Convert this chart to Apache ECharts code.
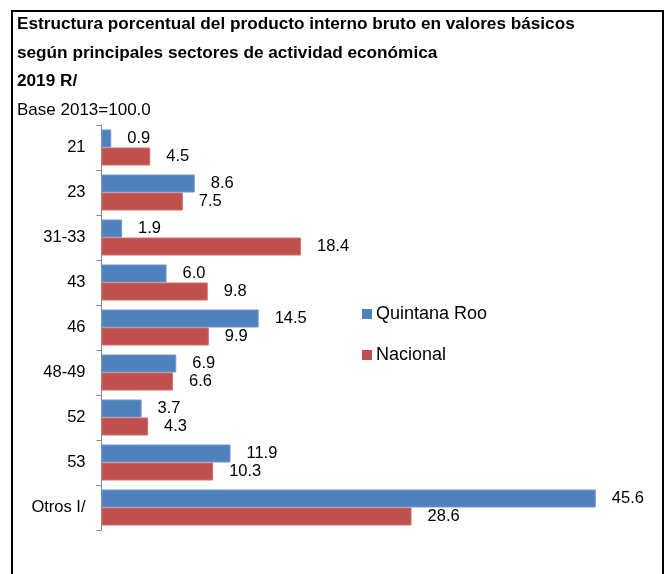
<!DOCTYPE html>
<html>
<head>
<meta charset="utf-8">
<script src="https://cdn.jsdelivr.net/npm/echarts@6/dist/echarts.min.js"></script>
<style>
  html, body { margin: 0; padding: 0; background: #fff; }
  #chart { width: 665px; height: 574px; }
</style>
</head>
<body>
<div id="chart"></div>
<script>
// Sectores de actividad económica (códigos SCIAN)
const categories = ['21', '23', '31-33', '43', '46', '48-49', '52', '53', 'Otros I/'];
// Participación porcentual en el PIB, 2019
const quintanaRoo = [0.9, 8.6, 1.9, 6.0, 14.5, 6.9, 3.7, 11.9, 45.6];
const nacional = [4.5, 7.5, 18.4, 9.8, 9.9, 6.6, 4.3, 10.3, 28.6];
const seriesNames = ['Quintana Roo', 'Nacional'];
const titleLines = [
  'Estructura porcentual del producto interno bruto en valores básicos',
  'según principales sectores de actividad económica',
  '2019 R/'
];
const subtitle = 'Base 2013=100.0';

const FONT = '"Liberation Sans", Arial, sans-serif';
const chart = echarts.init(document.getElementById('chart'), null, { renderer: 'canvas' });

const titleY = [24, 53, 81];
const titles = titleLines.map((t, i) => ({
  text: t,
  left: 17,
  top: titleY[i] - 10,
  padding: 0,
  textStyle: { fontFamily: FONT, fontSize: 17.2, fontWeight: 'bold', color: '#000', lineHeight: 20 }
}));
titles.push({
  text: subtitle,
  left: 17,
  top: 110 - 10,
  padding: 0,
  textStyle: { fontFamily: FONT, fontSize: 17, fontWeight: 'normal', color: '#000', lineHeight: 20 }
});

const labelStyle = {
  show: true,
  position: 'right',
  distance: 16,
  fontFamily: FONT,
  fontSize: 16.5,
  color: '#000',
  formatter: p => p.value.toFixed(1)
};

chart.setOption({
  animation: false,
  backgroundColor: '#fff',
  title: titles,
  graphic: [{
    type: 'rect',
    shape: { x: 12, y: 11, width: 651, height: 600 },
    style: { fill: 'none', stroke: '#000', lineWidth: 2 },
    silent: true
  }],
  legend: {
    orient: 'vertical',
    left: 362,
    top: 304,
    itemWidth: 10,
    itemHeight: 10,
    itemGap: 21,
    icon: 'rect',
    padding: 0,
    itemStyle: { borderWidth: 0 },
    textStyle: { fontFamily: FONT, fontSize: 18, color: '#000', lineHeight: 20, padding: [0, 0, 0, -1] },
    data: seriesNames
  },
  grid: { left: 101.5, top: 125, width: 542, height: 405, containLabel: false },
  xAxis: {
    type: 'value',
    min: 0,
    max: 50,
    show: false
  },
  yAxis: {
    type: 'category',
    data: categories,
    inverse: true,
    axisLine: { show: true, lineStyle: { color: '#868686', width: 1 } },
    axisTick: { show: true, length: 5, lineStyle: { color: '#868686' } },
    axisLabel: { fontFamily: FONT, fontSize: 16.5, color: '#000', margin: 16 },
    splitLine: { show: false }
  },
  series: [
    {
      name: seriesNames[0],
      type: 'bar',
      data: quintanaRoo,
      barGap: '0%',
      barCategoryGap: '20%',
      itemStyle: { color: '#4F81BD', borderColor: '#6E98CC', borderWidth: 1 },
      label: labelStyle
    },
    {
      name: seriesNames[1],
      type: 'bar',
      data: nacional,
      barGap: '0%',
      barCategoryGap: '20%',
      itemStyle: { color: '#C0504D', borderColor: '#CF6E6B', borderWidth: 1 },
      label: labelStyle
    }
  ]
});
</script>
</body>
</html>
